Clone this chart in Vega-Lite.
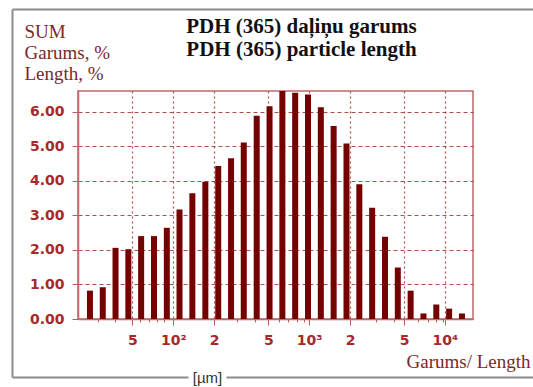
{
  "$schema": "https://vega.github.io/schema/vega-lite/v6.json",
  "width": 395,
  "height": 228,
  "autosize": "none",
  "padding": {"left": 78, "top": 91, "right": 60, "bottom": 68},
  "background": "white",
  "config": {
    "view": {"stroke": "#bf6a6a", "strokeWidth": 1.5, "fill": "white"},
    "axis": {
      "domainColor": "#bf6a6a",
      "domainWidth": 1.5,
      "tickColor": "#b85c5c",
      "gridColor": "#a83c3c",
      "gridOpacity": 0.9,
      "labelColor": "#a52a2a",
      "labelFont": "DejaVu Sans",
      "labelFontWeight": "bold",
      "labelFontSize": 14,
      "titleFontWeight": "normal",
      "grid": false
    }
  },
  "data": {
    "values": [
      {"length": 24.3, "pct": 0.82},
      {"length": 30.2, "pct": 0.92},
      {"length": 37.5, "pct": 2.06},
      {"length": 46.6, "pct": 2.02},
      {"length": 57.9, "pct": 2.40},
      {"length": 72.0, "pct": 2.40},
      {"length": 89.5, "pct": 2.64},
      {"length": 111, "pct": 3.17},
      {"length": 138, "pct": 3.64},
      {"length": 172, "pct": 3.97},
      {"length": 214, "pct": 4.43},
      {"length": 266, "pct": 4.65},
      {"length": 330, "pct": 5.11},
      {"length": 411, "pct": 5.88},
      {"length": 511, "pct": 6.16},
      {"length": 635, "pct": 6.60},
      {"length": 789, "pct": 6.55},
      {"length": 981, "pct": 6.50},
      {"length": 1219, "pct": 6.13},
      {"length": 1515, "pct": 5.59},
      {"length": 1884, "pct": 5.08},
      {"length": 2342, "pct": 3.90},
      {"length": 2911, "pct": 3.22},
      {"length": 3619, "pct": 2.38},
      {"length": 4498, "pct": 1.49},
      {"length": 5591, "pct": 0.82},
      {"length": 6950, "pct": 0.16},
      {"length": 8640, "pct": 0.42},
      {"length": 10740, "pct": 0.30},
      {"length": 13350, "pct": 0.16}
    ]
  },
  "layer": [
    {
      "description": "length distribution bars with the main axes and dashed grid",
      "mark": {"type": "bar", "size": 6, "color": "#750000"},
      "encoding": {
        "x": {
          "field": "length",
          "type": "quantitative",
          "scale": {"type": "log", "domain": [21.6, 14790], "nice": false},
          "axis": {
            "orient": "bottom",
            "values": [50, 100, 200, 500, 1000, 2000, 5000, 10000],
            "labelExpr": "datum.value == 100 ? '10²' : datum.value == 1000 ? '10³' : datum.value == 10000 ? '10⁴' : (datum.value == 50 || datum.value == 500 || datum.value == 5000) ? '5' : '2'",
            "tickSize": 6,
            "labelPadding": 8,
            "grid": true,
            "gridDash": [2, 3],
            "gridWidth": 1.2,
            "title": "Garums/ Length",
            "titleFont": "Liberation Serif",
            "titleFontSize": 19,
            "titleColor": "#7a2828",
            "titleX": 452,
            "titleY": 48,
            "titleAlign": "right",
            "titleBaseline": "alphabetic"
          }
        },
        "y": {
          "field": "pct",
          "type": "quantitative",
          "scale": {"domain": [0, 6.6], "nice": false},
          "axis": {
            "orient": "left",
            "values": [0, 1, 2, 3, 4, 5, 6],
            "format": ".2f",
            "tickSize": 6,
            "labelPadding": 8,
            "grid": true,
            "gridDash": [4, 3],
            "gridWidth": 1.2,
            "title": ["SUM", "Garums, %", "Length, %"],
            "titleAngle": 0,
            "titleX": -54,
            "titleY": -54,
            "titleAlign": "left",
            "titleBaseline": "alphabetic",
            "titleFont": "Liberation Serif",
            "titleFontSize": 19,
            "titleLineHeight": 21,
            "titleColor": "#7a2828"
          }
        }
      }
    },
    {
      "description": "minor log ticks along the length axis",
      "mark": {"type": "point", "opacity": 0},
      "encoding": {
        "x": {
          "field": "length",
          "type": "quantitative",
          "scale": {"type": "log", "domain": [21.6, 14790], "nice": false},
          "axis": {
            "orient": "bottom",
            "values": [30, 40, 60, 70, 80, 90, 300, 400, 600, 700, 800, 900, 3000, 4000, 6000, 7000, 8000, 9000],
            "labels": false,
            "domain": false,
            "tickSize": 3,
            "title": null
          }
        },
        "y": {"field": "pct", "type": "quantitative", "scale": {"domain": [0, 6.6], "nice": false}, "axis": null}
      }
    },
    {
      "description": "outer frame, top and left edges, with the chart heading",
      "mark": {"type": "point", "opacity": 0},
      "encoding": {
        "x": {
          "field": "length",
          "type": "quantitative",
          "scale": {"type": "linear", "domain": [0, 1], "range": [-66, 480], "nice": false, "zero": false},
          "axis": {
            "orient": "top",
            "offset": 82,
            "labels": false,
            "ticks": false,
            "domainColor": "#8c8c8c",
            "domainWidth": 2,
            "title": ["PDH (365) daļiņu garums", "PDH (365) particle length"],
            "titleX": 223,
            "titleY": 23,
            "titleAlign": "center",
            "titleBaseline": "alphabetic",
            "titleFont": "Liberation Serif",
            "titleFontSize": 21,
            "titleFontWeight": "bold",
            "titleLineHeight": 23,
            "titleColor": "#111111"
          }
        },
        "y": {
          "field": "pct",
          "type": "quantitative",
          "scale": {"type": "linear", "domain": [0, 1], "range": [286, -82], "nice": false, "zero": false},
          "axis": {
            "orient": "left",
            "offset": 66,
            "labels": false,
            "ticks": false,
            "domainColor": "#8c8c8c",
            "domainWidth": 2,
            "title": null
          }
        }
      }
    },
    {
      "description": "outer frame, bottom edge",
      "mark": {"type": "point", "opacity": 0},
      "encoding": {
        "x": {
          "field": "length",
          "type": "quantitative",
          "scale": {"type": "linear", "domain": [0, 1], "range": [-66, 480], "nice": false, "zero": false},
          "axis": {
            "orient": "bottom",
            "offset": 58,
            "labels": false,
            "ticks": false,
            "domainColor": "#8c8c8c",
            "domainWidth": 2,
            "title": null
          }
        },
        "y": {"field": "pct", "type": "quantitative", "scale": {"domain": [0, 6.6], "nice": false}, "axis": null}
      }
    },
    {
      "description": "unit label set into the bottom edge of the frame",
      "mark": {"type": "point", "opacity": 0},
      "encoding": {
        "x": {
          "field": "length",
          "type": "quantitative",
          "scale": {"type": "linear", "domain": [0, 1], "range": [-66, 480], "nice": false, "zero": false},
          "axis": {
            "orient": "bottom",
            "offset": 52,
            "zindex": 2,
            "values": [0.3571],
            "labels": false,
            "domain": false,
            "tickSize": 12,
            "tickWidth": 38,
            "tickColor": "white",
            "tickCap": "butt",
            "title": "[µm]",
            "titleX": 129,
            "titleY": 6,
            "titleAlign": "center",
            "titleBaseline": "middle",
            "titleFont": "Liberation Sans",
            "titleFontSize": 15,
            "titleColor": "#333333"
          }
        },
        "y": {"field": "pct", "type": "quantitative", "scale": {"domain": [0, 6.6], "nice": false}, "axis": null}
      }
    }
  ],
  "resolve": {"scale": {"x": "independent", "y": "independent"}, "axis": {"x": "independent", "y": "independent"}}
}
